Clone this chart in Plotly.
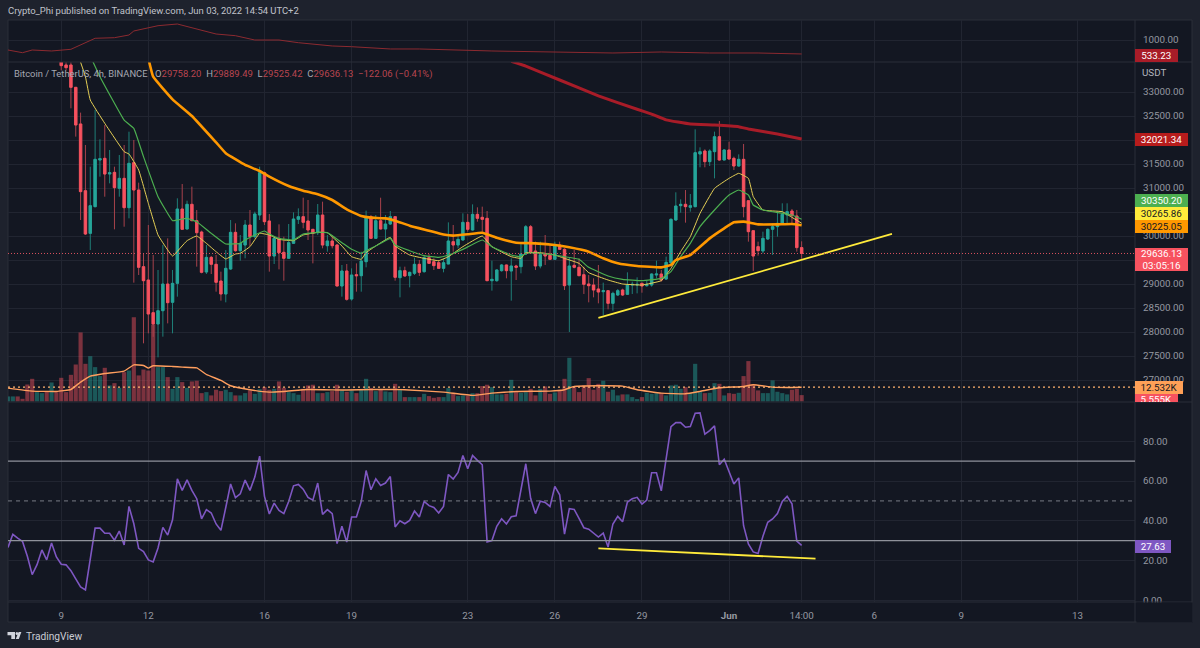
import pandas as pd
import plotly.graph_objects as go

# 4h bars, first one sits on the left edge of the chart
dates = pd.date_range("2022-05-07 06:00", periods=165, freq="4h")
FIRST_CANDLE = 11  # earlier candles are above the visible price range

opens = [33800,33563,33563,33097,32334,30944,30055,30611,31583,31618,
         31291,31326,30993,31201,30590,31528,30958,29361,29083,28403,
         28167,28444,28999,28618,29014,30562,30146,30660,30319,30083,
         29250,29555,29410,29062,28792,29312,30076,29694,29812,30229,
         29986,30437,31319,30312,29583,29951,29660,29535,29847,30347,
         30403,30312,30139,30069,30437,29798,29896,29812,28958,29271,
         28687,29194,29173,29465,30403,29951,30319,30146,30250,30403,
         29132,29278,29174,29222,29410,29257,29548,29465,29444,29326,
         29416,29882,29812,29916,30284,30125,30451,30389,30368,29069,
         29069,29278,29396,29271,29375,29361,29625,30194,29687,29375,
         29625,29597,29514,29812,29722,28979,29389,29347,29194,29000,
         28979,28896,28840,28861,28597,28771,28875,28784,28979,28979,
         29014,28965,28979,29187,29208,29104,29444,30333,30632,30660,
         30597,30611,31708,31771,31549,31757,32069,31583,31792,31618,
         31458,31597,30736,30111,29778,29688,29938,30139,30195,30264,
         30438,30521,30417,29758.20]
highs = [33850,33620,33618,33097,32570,31896,31444,32625,32014,32312,
         31791,31444,31687,31896,32173,32000,31111,29639,30229,29604,
         29292,29812,29951,29292,30785,31083,30736,31028,30541,30111,
         29812,29583,29604,29257,29708,30333,30264,30021,30333,30541,
         30507,31444,31340,30458,29999,30243,29986,30250,30493,30576,
         30798,30750,30146,30666,30715,30021,30021,29833,29396,29416,
         29326,29430,29673,30528,30437,30437,30798,30437,30521,30403,
         29361,29361,29257,29548,29500,29604,29625,29535,29500,29535,
         30284,30229,30041,30472,30458,30659,30597,30611,30521,29486,
         29305,29416,29403,29534,29400,29833,30229,30229,29882,29882,
         30021,29812,29882,29882,29743,29548,29708,29534,29361,29187,
         29118,29396,29028,28875,28840,28896,28903,29243,29048,29139,
         29028,29083,29222,29486,29292,29570,30368,30910,30764,30958,
         30875,32222,31847,31806,31806,32174,32396,31806,31965,31653,
         31701,31917,30736,30111,29882,30090,30160,30264,30486,30681,
         30681,30563,30542,29889.49]
lows = [33450,33450,32660,32070,30333,30021,29708,30597,31236,30819,
        31097,30139,30819,30194,30368,29028,29187,27764,27972,27900,
        27472,27903,28180,27972,28736,30139,30139,30319,29361,29222,
        29208,29208,28840,28653,28618,29292,29674,29486,29535,29792,
        29951,30333,30229,29257,29416,29305,29069,29535,29833,30250,
        30160,29916,29430,30021,29743,29673,29743,28958,28736,28653,
        28653,28840,28840,29347,29937,29937,30139,29916,30229,29069,
        28722,29153,28930,29187,29167,29236,29416,29291,29312,29243,
        29416,29673,29743,29903,30090,30111,30298,30090,29069,28861,
        29048,29257,29118,28653,29083,29222,29604,29653,29292,29326,
        29396,29500,29500,29708,28875,28000,29326,29173,28792,28618,
        28722,28597,28347,28472,28444,28750,28750,28771,28792,28805,
        28819,28944,28945,29118,29049,29083,29417,30320,30486,30278,
        30507,30597,31431,31431,31458,31201,31570,31583,31597,31375,
        31445,30389,29882,29271,29590,29639,29917,29604,29986,30250,
        30229,30229,29674,29525.42]
closes = [33549,33507,33097,32313,30924,30042,30632,31597,31611,31291,
          31319,31007,31201,30590,31514,30958,29347,29069,28375,28167,
          28444,28999,28611,29014,30562,30139,30660,30319,30069,29243,
          29555,29410,29035,28792,29326,30076,29694,29847,30229,29986,
          30458,31319,30298,29583,29951,29653,29535,29861,30354,30403,
          30285,30125,30055,30437,29812,29896,29798,28958,29271,28680,
          29187,29173,29479,30403,29951,30319,30146,30250,30403,29139,
          29278,29167,29243,29410,29243,29548,29430,29382,29326,29444,
          29896,29812,29930,30284,30139,30451,30368,30347,29069,29097,
          29292,29396,29278,29375,29347,29625,30194,29673,29375,29611,
          29583,29514,29812,29722,28965,29375,29347,29173,28993,28965,
          28875,28833,28861,28597,28805,28861,28771,28979,28993,28993,
          28958,28993,29208,29208,29083,29451,30347,30625,30660,30611,
          30632,31736,31757,31549,31771,32069,31583,31792,31604,31458,
          31597,30611,30090,29583,29695,29951,30139,30195,30264,30451,
          30507,30424,29758.20,29636.13]

# volume in thousands, one per bar
volume = [4.4,4.4,4.4,2.3,14.9,19.9,8.2,7.3,9.1,16.7,8.2,20.8,8.2,23.4,32.5,60.7,33.1,39.8,30.2,22.3,
          29.6,14.1,16.1,12.0,25.8,27.2,74.1,22.9,28.1,27.2,67.7,30.2,30.2,21.4,11.1,21.4,17.0,12.0,17.6,18.2,
          7.3,8.2,5.3,10.3,9.1,10.3,8.2,5.3,5.3,7.3,9.7,6.7,10.8,12.6,10.3,11.1,17.6,12.0,8.2,7.3,
          5.9,11.1,14.1,14.7,7.3,7.3,8.2,9.1,14.7,9.7,8.5,9.7,7.3,10.8,19.9,11.7,9.1,10.3,8.8,8.2,
          15.5,11.1,3.8,3.8,3.8,3.8,6.7,4.7,3.2,3.8,3.8,11.7,7.6,4.7,5.3,5.0,7.3,7.3,13.5,14.7,
          12.6,6.2,6.2,6.7,19.0,8.2,7.6,8.2,11.1,5.3,11.1,13.2,6.7,7.9,10.3,19.9,38.4,13.2,8.2,14.1,
          20.5,10.3,15.5,18.2,8.5,10.3,5.3,6.2,6.2,3.8,2.1,3.8,7.6,6.7,7.3,7.3,5.3,14.1,14.7,11.1,
          12.6,7.3,33.1,9.1,7.3,7.6,16.1,15.5,5.3,7.3,6.7,7.6,22.3,35.5,14.9,9.7,7.3,7.3,18.5,8.5,
          7.3,6.2,10.3,11.1,5.555]
head_up = [1,1,0,0,0,0,1,1,0,1,0]  # direction of the bars whose candles are off screen

vol_ma_bars = [0,5,10,13,15,17,20,24,26,28,29,30,34,36,39,41,44,46,50,54,57,62,70,75,80,
               82,90,96,100,105,112,115,117,122,127,130,135,140,143,147,152,154,158,162,164]
vol_ma = [11.7,9.1,8.8,10.5,17.0,22.3,24.6,26.7,32.2,31.6,29.3,31.4,30.8,30.2,29.6,23.7,18.5,13.8,10.3,8.2,8.8,10.5,10.0,10.5,10.5,
          10.3,8.2,5.3,7.3,8.8,9.1,10.3,13.2,13.8,13.5,10.3,7.3,6.7,8.8,12.0,13.2,14.7,12.6,12.3,12.532]

rsi = [26.6,33.2,31.3,29.6,22.1,12.9,17.9,25.3,20.3,28.8,21.8,18.1,17.8,14.9,10.7,6.7,5.2,20.8,36.3,36.3,
       33.7,33.7,30.2,34.8,27.8,47.2,38.5,26.1,24.5,20.3,19.3,26.3,36.7,32.8,40.5,61.1,55.3,60.6,55.3,51.1,
       41.0,45.6,43.9,38.4,35.2,46.7,58.5,51.6,53.6,60.5,55.3,62.0,72.5,52.3,43.4,48.9,45.2,43.6,49.7,57.6,
       58.3,55.9,51.8,50.4,59.0,43.2,45.6,43.6,28.5,37.2,29.3,41.9,41.9,49.7,65.3,55.6,61.1,57.8,59.0,62.3,
       36.9,40.0,38.5,40.2,44.9,41.9,49.7,47.6,46.7,43.9,47.2,63.3,61.0,64.3,72.9,66.2,72.9,70.4,68.2,29.3,
       30.0,37.2,41.0,38.4,42.0,42.5,54.8,68.7,51.3,43.6,49.9,49.2,47.2,57.3,53.1,33.3,46.1,45.7,41.2,36.5,
       35.8,33.8,31.8,33.8,26.8,38.4,42.2,39.5,49.4,51.1,51.8,48.4,50.4,64.2,64.2,55.1,72.4,87.4,89.4,89.4,
       87.1,87.4,94.1,94.3,83.6,85.4,87.8,68.2,71.0,64.8,58.5,61.6,37.5,28.3,24.3,23.5,32.2,39.2,40.9,43.6,
       49.7,52.3,48.6,29.8,27.63]

top_bars = [0,3,5,9,13,18,22,25,26,31,35,39,43,47,51,56,60,67,71,79,85,100,115,125,135,145,155,164]
top_line = [666,576,666,633,689,1057,1077,1167,1301,1478,1534,1357,1200,1144,1000,1000,910,800,776,700,700,633,600,566,600,566,566,533.23]

yellow_bars = [15,16,17,20,24,25,27,29,31,33,34,37,39,41,43,45,47,48,50,52,54,56,59,61,64,66,69,71,73,74,76,79,80,83,86,89,91,94,98,
               100,104,106,107,110,113,115,118,120,124,127,131,135,137,139,141,143,146,149,151,153,154,156,160,162,164]
yellow = [33620,33319,32833,32347,31757,31708,31375,30680,30021,29708,29583,29903,30000,29847,29673,29521,29625,29639,29778,30055,30021,29930,29903,30021,30076,30069,29792,29569,29514,29653,29792,29972,29792,29604,29534,29486,29569,29778,30000,
          29778,29569,29534,29653,29653,29604,29534,29430,29236,29083,29000,28979,29069,29326,29674,29986,30472,30993,31201,31306,31201,30820,30542,30507,30389,30265.86]
green_bars = [17,19,24,26,28,31,34,35,37,39,42,45,48,49,51,53,54,56,59,61,64,66,69,71,73,74,76,79,80,83,86,89,91,94,98,
              100,104,106,107,110,113,115,118,120,124,127,131,135,137,139,141,143,146,149,151,153,154,156,160,162,164]
green = [33750,33319,32416,32243,31653,30819,30319,30333,30368,30298,30055,29833,29847,29917,30021,30104,30041,29951,29917,30041,30076,30069,29861,29722,29639,29694,29792,29951,29812,29694,29590,29555,29604,29722,29917,
         29778,29604,29569,29639,29639,29604,29569,29514,29347,29167,29097,29069,29118,29257,29570,29847,30195,30542,30854,30958,30854,30646,30542,30472,30437,30350.20]
orange_bars = [29,30,34,38,43,45,49,52,54,58,61,64,67,70,73,75,78,80,83,87,90,92,95,98,101,105,109,113,116,120,123,126,130,135,137,138,141,145,148,150,152,155,159,162,164]
orange = [33700,33319,32847,32500,31950,31725,31480,31354,31236,31041,30944,30868,30750,30555,30417,30382,30368,30319,30215,30111,30030,30007,30035,30069,29965,29861,29847,29812,29764,29673,29535,29430,29375,29347,29396,29500,29604,29951,30160,30285,30299,30243,30243,30250,30225.05]
red_bars = [104,107,114,122,130,133,136,141,146,151,153,159,164]
red = [33640,33540,33250,32920,32640,32540,32420,32333,32313,32278,32229,32125,32021.34]

# drawn trendlines
price_trend_x = ["2022-05-27 14:00", "2022-06-06 16:40"]
price_trend_y = [28292, 30042]
rsi_trend_x = ["2022-05-27 14:00", "2022-06-04 01:30"]
rsi_trend_y = [26.1, 20.9]

# days start on the 02:00 bar in this chart's timezone
time_ticks = ["2022-05-09 02:00", "2022-05-12 02:00", "2022-05-16 02:00", "2022-05-19 02:00", "2022-05-23 02:00",
              "2022-05-26 02:00", "2022-05-29 02:00", "2022-06-01 02:00", "2022-06-03 14:00",
              "2022-06-06 02:00", "2022-06-09 02:00", "2022-06-13 02:00"]
time_labels = ["9", "12", "16", "19", "23", "26", "29", "<b>Jun</b>", "14:00", "6", "9", "13"]
price_ticks = [27000, 27500, 28000, 28500, 29000, 29500, 30000, 30500, 31000, 31500, 32000, 32500, 33000]
price_labels = ["27000.00", "27500.00", "28000.00", "28500.00", "29000.00", "", "30000.00", "", "31000.00", "31500.00", "", "32500.00", "33000.00"]
rsi_ticks = [0, 20, 40, 60, 80]

W, H = 1200, 648
BG = "#131722"
OUTER = "#1e222d"
BORDER = "#2a2e39"
GRID = "#212531"
TEXT = "#9598a1"
UP = "#26a69a"
DOWN = "#f7525f"
FONT = "Roboto"


def px(x):
    return x / W


def py(y):
    return 1 - y / H


fig = go.Figure()

# top pane
fig.add_trace(go.Scatter(x=dates[top_bars], y=top_line, yaxis="y", mode="lines",
                         line=dict(color="#8c2a30", width=1)))

# volume goes under the candles
vol_colors = []
for i in range(len(dates)):
    if i < FIRST_CANDLE:
        is_up = head_up[i]
    else:
        is_up = closes[i - FIRST_CANDLE] >= opens[i - FIRST_CANDLE]
    vol_colors.append("rgba(38,166,154,0.46)" if is_up else "rgba(247,82,95,0.46)")
fig.add_trace(go.Bar(x=dates, y=volume, yaxis="y2", marker=dict(color=vol_colors, line_width=0)))
fig.add_trace(go.Scatter(x=dates[vol_ma_bars], y=vol_ma, yaxis="y2", mode="lines",
                         line=dict(color="#ff9e5e", width=1.4, shape="spline", smoothing=0.3)))

# price: wicks first in a dimmer colour, then the bodies on top
fig.add_trace(go.Candlestick(x=dates[FIRST_CANDLE:], open=opens, high=highs, low=lows, close=closes, yaxis="y3",
                             increasing=dict(fillcolor="rgba(0,0,0,0)", line=dict(color="#1f7f78", width=1)),
                             decreasing=dict(fillcolor="rgba(0,0,0,0)", line=dict(color="#a8424c", width=1)),
                             hoverinfo="skip"))
body_tops = [max(o, c) for o, c in zip(opens, closes)]
body_bottoms = [min(o, c) for o, c in zip(opens, closes)]
fig.add_trace(go.Candlestick(x=dates[FIRST_CANDLE:], open=opens, high=body_tops, low=body_bottoms, close=closes, yaxis="y3",
                             increasing=dict(fillcolor=UP, line=dict(color=UP, width=0.8)),
                             decreasing=dict(fillcolor=DOWN, line=dict(color=DOWN, width=0.8)),
                             hoverinfo="skip"))
fig.add_trace(go.Scatter(x=dates[yellow_bars], y=yellow, yaxis="y3", mode="lines",
                         line=dict(color="#e5cf55", width=1, shape="spline", smoothing=0.3)))
fig.add_trace(go.Scatter(x=dates[green_bars], y=green, yaxis="y3", mode="lines",
                         line=dict(color="#4caf50", width=1.2, shape="spline", smoothing=0.3)))
fig.add_trace(go.Scatter(x=dates[orange_bars], y=orange, yaxis="y3", mode="lines",
                         line=dict(color="#ff9800", width=2.6, shape="spline", smoothing=0.3)))
fig.add_trace(go.Scatter(x=dates[red_bars], y=red, yaxis="y3", mode="lines",
                         line=dict(color="#a81c28", width=3, shape="spline", smoothing=0.3)))
fig.add_trace(go.Scatter(x=price_trend_x, y=price_trend_y, yaxis="y3", mode="lines",
                         line=dict(color="#ffeb3b", width=1.8)))

# rsi
fig.add_trace(go.Scatter(x=dates, y=rsi, yaxis="y4", mode="lines", line=dict(color="#7e57c2", width=1.6)))
fig.add_trace(go.Scatter(x=rsi_trend_x, y=rsi_trend_y, yaxis="y4", mode="lines",
                         line=dict(color="#ffeb3b", width=1.8)))

tickfont = dict(family=FONT, size=9.8, color=TEXT)
y_common = dict(side="right", anchor="x", gridcolor=GRID, gridwidth=1, zeroline=False, showline=False,
                tickfont=tickfont, ticks="", ticklabelstandoff=7, tickmode="array")

fig.update_layout(
    width=W, height=H, margin=dict(l=0, r=0, t=0, b=0, autoexpand=False), autosize=False,
    paper_bgcolor=OUTER, plot_bgcolor="rgba(0,0,0,0)",
    showlegend=False, hovermode=False, bargap=0.14,
    xaxis=dict(domain=[px(8), px(1135)], type="date", anchor="y4",
               range=["2022-05-07 06:00", "2022-06-15 01:33"], rangeslider=dict(visible=False),
               tickmode="array", tickvals=time_ticks, ticktext=time_labels, ticklabelstandoff=6,
               tickfont=dict(family=FONT, size=9.8, color=TEXT), ticks="",
               gridcolor=GRID, gridwidth=1, zeroline=False, showline=False),
    yaxis=dict(domain=[py(62), py(20)], range=[265, 1668], tickvals=[1000], ticktext=["1000.00"], **y_common),
    yaxis2=dict(domain=[py(402), py(62)], range=[-0.5, 298.7], visible=False, fixedrange=True, showgrid=False, anchor="x"),
    yaxis3=dict(overlaying="y2", range=[26541.67, 33625], tickvals=price_ticks, ticktext=price_labels, **y_common),
    yaxis4=dict(domain=[py(602), py(402)], range=[-0.9, 99.8], tickvals=rsi_ticks, tickformat=".2f", **y_common),
)

line_border = dict(color=BORDER, width=1)
shapes = [
    # chart background and pane separators
    dict(type="rect", xref="paper", yref="paper", x0=px(8), x1=px(1192), y0=py(622), y1=py(20), layer="below",
         fillcolor=BG, line=line_border),
    dict(type="line", xref="paper", yref="paper", x0=px(8), x1=px(1192), y0=py(62), y1=py(62), line=line_border),
    dict(type="line", xref="paper", yref="paper", x0=px(8), x1=px(1192), y0=py(402), y1=py(402), line=line_border),
    dict(type="line", xref="paper", yref="paper", x0=px(8), x1=px(1192), y0=py(602), y1=py(602), line=line_border),
    dict(type="line", xref="paper", yref="paper", x0=px(1135), x1=px(1135), y0=py(622), y1=py(20), line=line_border),
    # last price and volume average lines
    dict(type="line", xref="x domain", yref="y3", x0=0, x1=1, y0=closes[-1], y1=closes[-1],
         line=dict(color="#d9525e", width=1, dash="1px,2px")),
    dict(type="line", xref="x domain", yref="y2", x0=0, x1=1, y0=vol_ma[-1], y1=vol_ma[-1],
         line=dict(color="#ffb26e", width=1.3, dash="2px,3px")),
    # rsi bands
    dict(type="line", xref="x domain", yref="y4", x0=0, x1=1, y0=70, y1=70, line=dict(color="#8f929b", width=1.2)),
    dict(type="line", xref="x domain", yref="y4", x0=0, x1=1, y0=30, y1=30, line=dict(color="#8f929b", width=1.2)),
    dict(type="line", xref="x domain", yref="y4", x0=0, x1=1, y0=50, y1=50,
         line=dict(color="#787b86", width=1, dash="4px,4px")),
    # TradingView logo
    dict(type="path", xref="paper", yref="paper", fillcolor="#d1d4dc", line_width=0,
         path=f"M {px(7.5)} {py(632)} L {px(15)} {py(632)} L {px(15)} {py(639)} L {px(11.3)} {py(639)} "
              f"L {px(11.3)} {py(635.2)} L {px(7.5)} {py(635.2)} Z"),
    dict(type="circle", xref="paper", yref="paper", fillcolor="#d1d4dc", line_width=0,
         x0=px(15.6), x1=px(18.2), y0=py(635), y1=py(632)),
    dict(type="path", xref="paper", yref="paper", fillcolor="#d1d4dc", line_width=0,
         path=f"M {px(15.8)} {py(639)} L {px(18.6)} {py(632)} L {px(21.4)} {py(632)} L {px(18.8)} {py(639)} Z"),
]
fig.update_layout(shapes=shapes)


def text_note(x, y, text, size=9.8, color=TEXT):
    fig.add_annotation(xref="paper", yref="paper", x=px(x), y=py(y), text=text, showarrow=False,
                       xanchor="left", yanchor="middle", align="left",
                       font=dict(family=FONT, size=size, color=color))


def price_box(y, text, fill, color="#ffffff", width=53, height=12.5, valign="middle"):
    # y is the middle of the box in pixels
    fig.add_annotation(xref="paper", yref="paper", x=px(1135), y=py(y), text=text, showarrow=False,
                       xanchor="left", yanchor="middle", align="center", valign=valign,
                       width=width, height=height, bgcolor=fill, borderpad=0, borderwidth=0,
                       font=dict(family=FONT, size=9.8, color=color))


text_note(5.5, 11, "Crypto_Phi published on TradingView.com, Jun 03, 2022 14:54 UTC+2", size=9.45, color="#c0c3cb")
text_note(11.5, 73.5, "Bitcoin / TetherUS, 4h, BINANCE", size=9.4, color="#a6a9b2")
red_num = "#b8454f"
text_note(152.5, 73.5,
          f'O<span style="color:{red_num}">29758.20</span>  H<span style="color:{red_num}">29889.49</span>  '
          f'L<span style="color:{red_num}">29525.42</span>  C<span style="color:{red_num}">29636.13</span>  '
          f'<span style="color:{red_num}">−122.06 (−0.41%)</span>', size=9.5, color="#a6a9b2")
text_note(1140, 72.5, "USDT", size=9.8, color="#b2b5be")
text_note(23.5, 636, "TradingView", size=10.2, color="#c9ccd4")

# covers the bottom half of the 0.00 rsi label
fig.add_annotation(xref="paper", yref="paper", x=px(1136), y=py(612), text=" ", showarrow=False,
                   xanchor="left", yanchor="middle", width=55, height=19, bgcolor=BG, borderpad=0)

price_box(55, "533.23", "#a81c28", width=42.5)
price_box(140, "32021.34", "#b71c1c")
price_box(201, "30350.20", "#4caf50")
price_box(213.5, "30265.86", "#ffeb3b", color="#131722")
price_box(226, "30225.05", "#ff9800", color="#131722")
price_box(259.5, "29636.13<br>03:05:16", "#f7525f", height=23)
price_box(398, "5.555K", "#f7525f", width=42.5, height=8, valign="top")
price_box(387.5, "12.532K", "#ffa057", color="#131722", width=48)
price_box(546, "27.63", "#7e57c2", width=36)

fig.write_html("out.html", config={"displayModeBar": False},
               post_script="document.body.style.margin='0';document.body.style.background='#1e222d';")
